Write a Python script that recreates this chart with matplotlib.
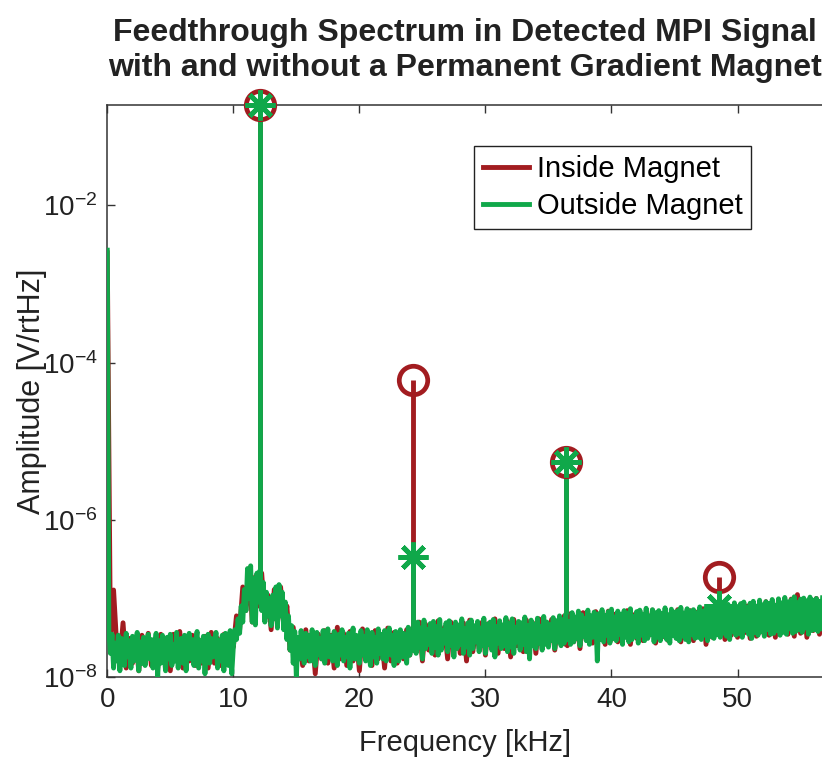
import numpy as np
import matplotlib
matplotlib.use("Agg")
import matplotlib.pyplot as plt
from matplotlib.ticker import NullLocator

plt.rcParams["font.family"] = ["Liberation Sans", "DejaVu Sans"]
plt.rcParams["mathtext.fontset"] = "custom"
plt.rcParams["mathtext.rm"] = "Liberation Sans"
plt.rcParams["mathtext.default"] = "regular"

# Amplitudes are given in units of 1e-8 V/rtHz
NOISE_UNIT = 1e-8

# Inside magnet: 0.25 kHz bins starting at 0 kHz
INSIDE_STEP_KHZ = 0.25
inside_noise = [
    250000, 3.0, 12.8, 2.5, 1.6, 4.9, 1.3, 3.1, 1.5, 3.0,
    1.2, 3.4, 1.6, 3.6, 1.4, 3.0, 1.3, 3.5, 1.7, 3.0,
    1.2, 3.5, 1.6, 3.8, 1.3, 3.2, 1.6, 3.4, 1.4, 3.0,
    1.5, 3.3, 1.3, 3.7, 1.5, 3.1, 1.4, 3.5, 1.6, 3.4,
    2.4, 6.0, 4.0, 14.0, 7.0, 24.0, 5.0, 19.0, 8.0, 21.0,
    5.5, 11.0, 4.0, 13.0, 5.0, 14.0, 4.5, 8.0, 2.2, 4.3,
    1.8, 3.2, 1.4, 4.0, 1.6, 3.6, 1.1, 3.5, 1.7, 3.9,
    1.5, 3.4, 1.3, 4.3, 1.7, 3.6, 1.4, 3.8, 1.6, 3.3,
    1.2, 4.1, 1.8, 3.5, 1.4, 3.9, 1.7, 3.4, 1.3, 4.2,
    1.6, 3.7, 1.5, 3.6, 1.7, 4.0, 1.9, 4.3, 2.1, 5.0,
    1.6, 4.7, 2.2, 4.5, 1.9, 5.2, 2.4, 4.3, 1.7, 5.0,
    2.2, 4.6, 2.0, 4.9, 1.6, 5.3, 2.1, 4.4, 2.3, 5.0,
    1.9, 4.8, 2.4, 5.5, 2.0, 4.6, 2.3, 5.1, 1.8, 5.4,
    2.5, 4.7, 2.1, 5.3, 2.6, 4.9, 2.0, 5.5, 2.3, 5.0,
    2.6, 5.4, 2.2, 5.1, 2.7, 6.0, 2.5, 6.4, 2.8, 5.6,
    2.3, 6.6, 3.0, 6.1, 2.7, 6.8, 3.2, 5.8, 2.6, 6.9,
    3.0, 6.3, 2.8, 6.0, 3.3, 7.0, 2.6, 6.2, 3.1, 6.9,
    2.9, 6.4, 3.4, 7.1, 2.7, 6.6, 3.2, 6.8, 2.9, 6.3,
    3.5, 7.2, 2.8, 6.5, 3.1, 7.0, 2.9, 6.7, 3.3, 7.4,
    2.6, 6.6, 3.2, 6.9, 3.5, 7.3, 3.0, 8.0, 3.4, 7.6,
    3.2, 8.4, 3.6, 8.0, 3.1, 8.7, 3.3, 8.3, 3.7, 9.1,
    3.4, 8.6, 3.2, 9.4, 3.9, 8.9, 3.5, 9.8, 3.3, 11.2,
    3.6, 9.7, 3.2, 9.2, 3.9, 10.0, 3.5, 9.0,
]

# Outside magnet: 0.125 kHz bins starting at 0 kHz (one row per kHz)
OUTSIDE_STEP_KHZ = 0.125
outside_noise = [
    270000, 3.8, 2.0, 3.5, 1.3, 2.7, 1.6, 3.4,
    1.2, 3.1, 2.2, 1.4, 3.6, 1.8, 2.9, 1.3,
    3.3, 1.6, 2.5, 3.7, 1.2, 2.8, 1.5, 3.2,
    1.4, 2.6, 3.5, 1.7, 3.0, 1.3, 2.4, 3.6,
    1.0, 2.9, 1.5, 3.4, 2.1, 1.2, 3.2, 1.7,
    3.5, 1.4, 2.6, 1.6, 3.7, 1.3, 2.8, 3.1,
    1.5, 3.4, 1.2, 2.5, 3.6, 1.7, 3.0, 1.4,
    2.7, 3.8, 1.3, 2.9, 1.6, 3.3, 1.1, 2.6,
    3.5, 1.5, 3.1, 1.8, 2.4, 3.7, 1.3, 2.9,
    1.6, 3.4, 1.2, 3.6, 2.0, 1.4, 3.9, 1.1,
    2.4, 4.0, 3.0, 5.5, 3.6, 8.0, 5.0, 13.0,
    7.0, 24.0, 10.0, 26.0, 5.0, 18.0, 4.6, 21.0,
    9.0, 23.0, 7.0, 16.0, 5.0, 12.0, 6.0, 10.0,
    4.5, 11.0, 5.5, 14.0, 4.2, 15.0, 6.0, 12.0,
    4.0, 9.0, 3.0, 6.0, 2.2, 4.5, 1.5, 3.8,
    1.0, 3.2, 1.7, 3.9, 2.2, 1.5, 3.6, 1.8,
    3.4, 1.6, 4.0, 2.0, 1.4, 3.7, 1.9, 3.1,
    1.7, 3.9, 1.5, 2.6, 4.1, 1.8, 3.3, 1.6,
    3.8, 2.1, 1.4, 3.5, 1.9, 4.0, 1.6, 3.2,
    1.8, 3.6, 1.3, 2.8, 4.2, 1.7, 3.4, 2.0,
    1.5, 3.9, 1.9, 3.3, 1.6, 4.0, 2.2, 1.4,
    3.7, 1.8, 3.2, 1.5, 4.1, 2.0, 3.5, 1.7,
    3.9, 1.6, 2.7, 4.2, 1.9, 3.4, 1.4, 3.8,
    2.1, 1.6, 4.0, 1.8, 3.6, 2.3, 1.5, 4.3,
    1.9, 3.7, 2.2, 4.5, 2.0, 5.0, 2.4, 4.2,
    1.7, 5.3, 2.3, 4.0, 2.6, 4.8, 2.0, 5.1,
    2.4, 4.4, 1.9, 5.4, 2.2, 3.9, 2.7, 4.9,
    2.1, 5.2, 2.5, 4.3, 1.8, 5.0, 2.3, 4.6,
    2.6, 5.5, 2.0, 4.1, 2.4, 4.9, 1.9, 5.3,
    2.3, 4.5, 2.8, 5.1, 2.1, 4.2, 2.5, 5.6,
    2.0, 4.7, 2.6, 5.0, 2.2, 5.4, 1.8, 4.4,
    2.7, 5.2, 2.3, 4.6, 2.5, 5.7, 2.1, 4.8,
    2.4, 5.5, 2.0, 4.3, 2.8, 5.1, 2.2, 4.9,
    2.6, 5.8, 2.1, 4.5, 1.7, 5.3, 2.5, 4.7,
    2.3, 5.6, 2.7, 4.4, 2.2, 5.9, 2.6, 5.0,
    2.4, 4.6, 2.9, 5.7, 2.3, 5.2, 2.8, 6.0,
    2.5, 5.4, 2.7, 6.3, 3.0, 5.1, 2.6, 6.6,
    2.8, 5.8, 3.1, 6.9, 2.5, 6.2, 3.3, 5.6,
    2.9, 7.1, 2.6, 6.0, 3.2, 6.7, 5.9, 1.6,
    6.4, 3.0, 7.2, 2.8, 6.1, 3.4, 6.8, 2.7,
    7.3, 3.1, 5.8, 2.9, 6.9, 3.5, 6.2, 2.6,
    7.0, 3.2, 6.5, 2.8, 7.4, 3.0, 5.9, 3.3,
    6.8, 2.7, 7.1, 3.4, 6.3, 2.9, 7.5, 3.1,
    6.0, 3.5, 7.2, 2.8, 6.6, 3.2, 7.0, 2.9,
    6.4, 3.3, 7.6, 3.0, 6.2, 2.7, 7.3, 3.4,
    6.7, 3.1, 7.0, 2.9, 7.7, 3.3, 6.5, 3.0,
    7.4, 2.8, 6.9, 3.5, 7.2, 3.1, 6.6, 3.2,
    7.8, 3.0, 6.8, 3.4, 7.5, 2.9, 7.1, 3.3,
    6.9, 3.1, 7.6, 3.5, 6.8, 3.2, 8.1, 3.6,
    7.7, 3.3, 8.4, 3.0, 7.5, 3.8, 8.8, 3.4,
    7.9, 3.6, 8.6, 3.2, 9.0, 3.9, 7.6, 3.5,
    8.7, 3.1, 9.2, 3.7, 8.0, 3.4, 9.5, 3.8,
    8.3, 3.3, 9.1, 4.0, 8.6, 3.5, 9.7, 3.6,
    8.2, 3.9, 9.9, 3.4, 8.8, 3.7, 10.3, 3.5,
    9.0, 4.1, 9.6, 3.6, 10.5, 3.8, 8.9, 4.0,
    9.8, 3.7, 10.1, 4.2, 9.3, 3.5, 10.4, 3.9,
    9.5, 4.0, 10.0, 3.8, 9.2, 4.1, 10.2,
]

# Drive fundamental and its harmonics (V/rtHz)
harmonic_khz = [12.14, 24.27, 36.39, 48.54]
inside_peaks = [0.19, 6.0e-5, 5.4e-6, 1.85e-7]
outside_peaks = [0.19, 3.4e-7, 5.4e-6, 7.9e-8]

series_labels = ["Inside Magnet", "Outside Magnet"]
x_ticks = [0, 10, 20, 30, 40, 50]
y_tick_exponents = [-8, -6, -4, -2]

RED = "#a21c20"
GREEN = "#10a84a"
LW = 3.5


def noise_series(values, step):
    f = np.arange(len(values)) * step
    return f, np.asarray(values, dtype=float) * NOISE_UNIT


def stem_bases(f, a):
    # harmonic lines start from the noise level of the nearest bin
    idx = [int(np.argmin(np.abs(f - h))) for h in harmonic_khz]
    return a[idx]


f_in, a_in = noise_series(inside_noise, INSIDE_STEP_KHZ)
f_out, a_out = noise_series(outside_noise, OUTSIDE_STEP_KHZ)

fig = plt.figure(figsize=(8.22, 7.59), dpi=100)
ax = fig.add_axes([0.1305, 0.108, 0.8695, 0.7537])

ax.plot(f_in, a_in, color=RED, lw=LW, solid_joinstyle="round",
        label=series_labels[0], zorder=2)
ax.vlines(harmonic_khz, stem_bases(f_in, a_in), inside_peaks, color=RED,
          lw=LW, zorder=2)
ax.plot(f_out, a_out, color=GREEN, lw=LW, solid_joinstyle="round",
        label=series_labels[1], zorder=3)
ax.vlines(harmonic_khz, stem_bases(f_out, a_out), outside_peaks, color=GREEN,
          lw=LW, zorder=3)
ax.plot(harmonic_khz, inside_peaks, linestyle="none", marker="o", ms=20.5,
        mfc="none", mec=RED, mew=3.4, zorder=4, clip_on=False)
ax.plot(harmonic_khz, outside_peaks, linestyle="none", marker=(8, 2, 0),
        ms=21.5, mec=GREEN, mew=3.5, zorder=5, clip_on=False)

ax.set_yscale("log")
ax.set_xlim(0, 56.7)
ax.set_ylim(10.0 ** y_tick_exponents[0], max(inside_peaks))
ax.set_xticks(x_ticks)
ax.set_xticklabels([str(t) for t in x_ticks])
ax.set_yticks([10.0 ** e for e in y_tick_exponents])
ax.set_yticklabels([r"$10^{%d}$" % e for e in y_tick_exponents])
ax.yaxis.set_minor_locator(NullLocator())
ax.xaxis.set_minor_locator(NullLocator())

ax.tick_params(direction="in", length=6, width=1.0, colors="#333333",
               labelcolor="#222222", labelsize=20, top=True, right=False,
               pad=7)
for side in ("left", "bottom", "top"):
    ax.spines[side].set_color("#333333")
    ax.spines[side].set_linewidth(1.1)
ax.spines["right"].set_visible(False)

ax.set_xlabel("Frequency [kHz]", fontsize=21, color="#222222", labelpad=12)
ax.set_ylabel("Amplitude [V/rtHz]", fontsize=22, color="#222222", labelpad=-3)
ax.set_title("Feedthrough Spectrum in Detected MPI Signal\n"
             "with and without a Permanent Gradient Magnet",
             fontsize=23, fontweight="bold", color="#222222", pad=21,
             linespacing=1.22)

leg = ax.legend(loc="upper left", bbox_to_anchor=(0.513, 0.928),
                fontsize=21, frameon=True, fancybox=False, framealpha=1,
                edgecolor="#222222", handlelength=1.6, handletextpad=0.25,
                borderpad=0.3, labelspacing=0.32, borderaxespad=0)
leg.get_frame().set_linewidth(1.0)
for line in leg.get_lines():
    line.set_linewidth(3.5)

fig.savefig("out.png", dpi=100)
